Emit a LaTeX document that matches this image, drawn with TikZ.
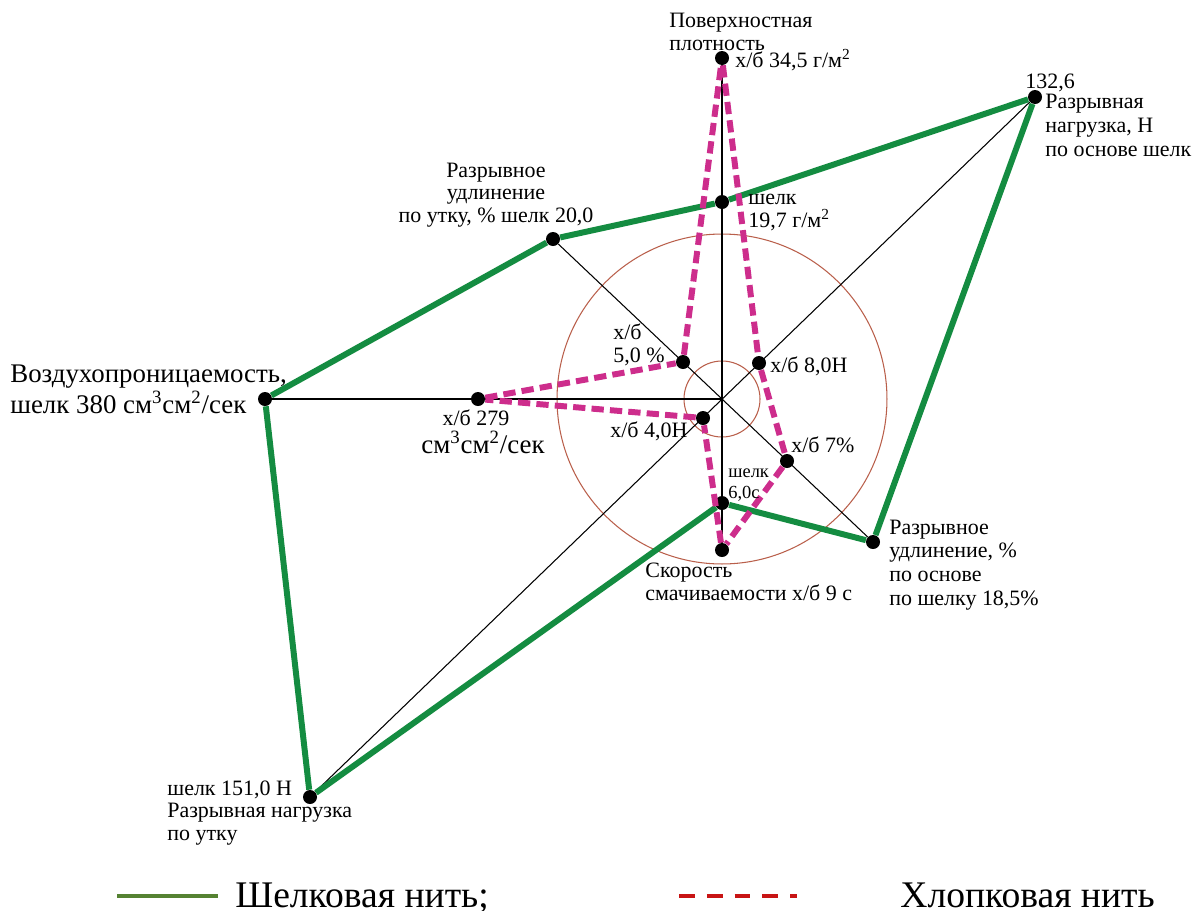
\documentclass[tikz,border=0pt]{standalone}
\usepackage{fontspec}
\setmainfont{Liberation Serif}
\usetikzlibrary{arrows, arrows.meta}
\usetikzlibrary{calc}

\definecolor{silk}{RGB}{20,140,65}
\definecolor{cotton}{RGB}{205,45,140}
\definecolor{ring}{RGB}{185,95,75}
\definecolor{legsilk}{RGB}{85,130,50}
\definecolor{legcotton}{RGB}{200,20,20}

\begin{document}
\begin{tikzpicture}[x=0.02cm, y=-0.02cm,
    pt/.style={circle, fill=black, inner sep=0pt, minimum size=0.28cm},
    lab/.style={inner sep=0pt, anchor=base west, align=left, font=\fontsize{12.5}{12.6}\selectfont},
    big/.style={font=\fontsize{15.3}{17.5}\selectfont},
    spoke/.style={black, line width=0.6pt},
    silkline/.style={silk, line width=3.4pt},
    cottonline/.style={cotton, line width=3.4pt, dash pattern=on 7pt off 3.5pt},
    leg/.style={inner sep=0pt, anchor=base west, font=\fontsize{21.4}{24}\selectfont}]
    \useasboundingbox (0,0) rectangle (1197,910);

    \coordinate (c) at (722,399);
    \draw[ring, line width=0.6pt] (c) circle (0.76cm);
    \draw[ring, line width=0.6pt] (c) circle (3.3cm);

    % cotton points
    \node[pt] (ct1) at (722,58) {};
    \node[pt] (ct2) at (759,363) {};
    \node[pt] (ct3) at (787,461) {};
    \node[pt] (ct4) at (722,550) {};
    \node[pt] (ct5) at (703,418) {};
    \node[pt] (ct6) at (478,399) {};
    \node[pt] (ct7) at (683,362) {};
    % silk points
    \node[pt] (sk1) at (722,202) {};
    \node[pt] (sk2) at (1035,97) {};
    \node[pt] (sk3) at (873,542) {};
    \node[pt] (sk4) at (722,503) {};
    \node[pt] (sk5) at (310,797) {};
    \node[pt] (sk6) at (265,399) {};
    \node[pt] (sk7) at (553,239) {};

    \draw[spoke] (ct1) -- (ct4);
    \draw[spoke] (sk6) -- (c);
    \draw[spoke] (sk2) -- (sk5);
    \draw[spoke] (sk7) -- (sk3);

    \draw[silkline] (sk1) -- (sk2) -- (sk3) -- (sk4) -- (sk5) -- (sk6) -- (sk7) -- (sk1);
    \draw[cottonline] (ct1) -- (ct2) -- (ct3) -- (ct4) -- (ct5) -- (ct6) -- (ct7) -- (ct1);

    \node[lab] (lTop) at (669,50) {Поверхностная\\плотность};
    \node[lab] (lct1) at (735,67) {х/б 34,5 г/м\textsuperscript{2}};
    \node[lab] (lsk1) at (748,227) {шелк\\19,7 г/м\textsuperscript{2}};
    \node[lab] (lsk2v) at (1025,88) {132,6};
    \node[lab, font=\fontsize{12.5}{13.4}\selectfont] (lsk2) at (1045,156) {Разрывная\\нагрузка, Н\\по основе шелк};
    \node[lab, anchor=base, align=center] (lsk7) at (496,222) {Разрывное\\удлинение\\по утку, \% шелк 20,0};
    \node[lab, big] (lsk6) at (10,413) {Воздухопроницаемость,\\шелк 380 см\textsuperscript{3}см\textsuperscript{2}/сек};
    \node[lab, anchor=base] (lct6) at (476,425) {х/б 279};
    \node[lab, big, anchor=base] (lct6u) at (483,453) {см\textsuperscript{3}см\textsuperscript{2}/сек};
    \node[lab] (lct7) at (613,362) {х/б\\5,0 \%};
    \node[lab] (lct5) at (610,437) {х/б 4,0Н};
    \node[lab] (lct2) at (770,372) {х/б 8,0Н};
    \node[lab] (lct3) at (791,452) {х/б 7\%};
    \node[lab, font=\fontsize{10.5}{11.5}\selectfont] (lsk4) at (728,498) {шелк\\6,0с};
    \node[lab, font=\fontsize{12.5}{13}\selectfont] (lct4) at (645,600) {Скорость\\смачиваемости х/б 9 с};
    \node[lab, font=\fontsize{12.5}{13.4}\selectfont] (lsk3) at (889,605) {Разрывное\\удлинение, \%\\по основе\\по шелку 18,5\%};
    \node[lab] (lsk5) at (167,840) {шелк 151,0 Н\\Разрывная нагрузка\\по утку};

    % legend
    \coordinate (lg1) at (117,896);
    \coordinate (lg2) at (218,896);
    \coordinate (lg3) at (679,896);
    \coordinate (lg4) at (797,896);
    \draw[legsilk, line width=2.4pt] (lg1) -- (lg2);
    \draw[legcotton, line width=2.4pt, dash pattern=on 9pt off 6.8pt] (lg3) -- (lg4);
    \node[leg] (lgs) at (235,907) {Шелковая нить;};
    \node[leg] (lgc) at (900,907) {Хлопковая нить};
\end{tikzpicture}
\end{document}
